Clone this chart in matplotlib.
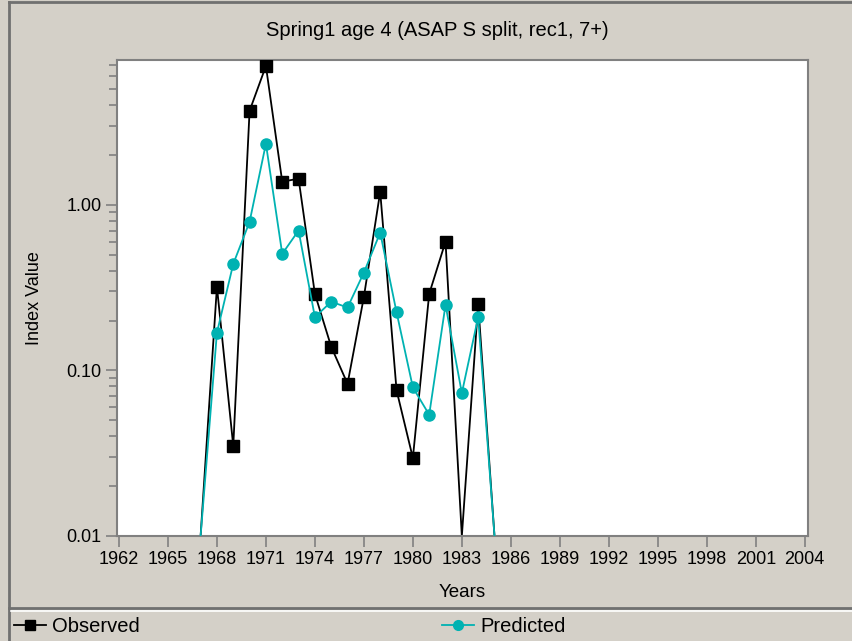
import numpy as np
import matplotlib.pyplot as plt
from matplotlib.lines import Line2D
from matplotlib.ticker import FixedLocator, LogLocator, NullFormatter

plt.rcParams['font.family'] = ['Liberation Sans', 'DejaVu Sans']

# data (0 = value below the axis floor)
years = np.arange(1967, 1986)
observed = [0, 0.32, 0.035, 3.7, 6.9, 1.38, 1.44, 0.29, 0.139, 0.083,
            0.278, 1.2, 0.076, 0.0296, 0.29, 0.60, 0, 0.252, 0]
predicted = [0, 0.169, 0.44, 0.79, 2.34, 0.506, 0.70, 0.21, 0.26, 0.24,
             0.39, 0.68, 0.225, 0.079, 0.054, 0.249, 0.073, 0.21, 0]
xticks = list(range(1962, 2005, 3))
yticks = [0.01, 0.1, 1.0]
ytick_labels = ['0.01', '0.10', '1.00']

bg = '#D4D0C8'
teal = '#00B2B2'
grey = '#808080'
ymin, ymax = 0.01, 7.5

fig = plt.figure(figsize=(8.53, 6.41), dpi=100, facecolor=bg)
ax = fig.add_axes([117 / 853, 1 - 536 / 641, 691 / 853, 476 / 641])
ax.set_facecolor('white')

obs = np.array(observed, dtype=float)
pred = np.array(predicted, dtype=float)

# zero values are drawn down to the axis floor, without a marker
ax.plot(years, np.where(obs > 0, obs, ymin), color='black', lw=1.3, zorder=2)
ax.plot(years[obs > 0], obs[obs > 0], 's', color='black', ms=8, zorder=3)
ax.plot(years, np.where(pred > 0, pred, ymin), color=teal, lw=1.3, zorder=4)
ax.plot(years[pred > 0], pred[pred > 0], 'o', color=teal, ms=8, zorder=5)

ax.set_yscale('log')
ax.set_ylim(ymin, ymax)
ax.set_xlim(1961.88, 2004.2)
ax.yaxis.set_major_locator(FixedLocator(yticks))
ax.set_yticklabels(ytick_labels)
ax.yaxis.set_minor_locator(LogLocator(base=10, subs=np.arange(2, 10)))
ax.yaxis.set_minor_formatter(NullFormatter())
ax.set_xticks(xticks)
ax.tick_params(axis='both', which='major', labelsize=13, color=grey,
               length=8, width=1.2, pad=3)
ax.tick_params(axis='y', which='minor', color=grey, length=6, width=1.2)
for s in ax.spines.values():
    s.set_color(grey)
    s.set_linewidth(1.5)

ax.set_xlabel('Years', fontsize=13.5, labelpad=11)
ax.set_ylabel('Index Value', fontsize=13, labelpad=17)
fig.text(437 / 853, 1 - 30 / 641, 'Spring1 age 4 (ASAP S split, rec1, 7+)',
         ha='center', va='center', fontsize=14.5)

# window frame and legend separator
fig.add_artist(Line2D([9 / 853, 9 / 853], [0, 1 - 2 / 641], color='#707070', lw=2))
fig.add_artist(Line2D([9 / 853, 1], [1 - 2 / 641, 1 - 2 / 641], color='#707070', lw=2))
fig.add_artist(Line2D([9 / 853, 1], [1 - 608 / 641, 1 - 608 / 641], color='#707070', lw=2))
fig.add_artist(Line2D([11 / 853, 1], [1 - 611 / 641, 1 - 611 / 641], color='white', lw=1.2))

h_obs = Line2D([], [], color='black', marker='s', ms=7, lw=1.3)
h_pred = Line2D([], [], color=teal, marker='o', ms=7, lw=1.3)
kw = dict(loc='center left', frameon=False, fontsize=14.5, handlelength=1.6,
          handletextpad=0.3, borderaxespad=0, borderpad=0)
fig.legend([h_obs], ['Observed'], bbox_to_anchor=(14 / 853, 1 - 627 / 641), **kw)
fig.legend([h_pred], ['Predicted'], bbox_to_anchor=(442 / 853, 1 - 627 / 641), **kw)

fig.savefig('out.png', dpi=100, facecolor=bg)
